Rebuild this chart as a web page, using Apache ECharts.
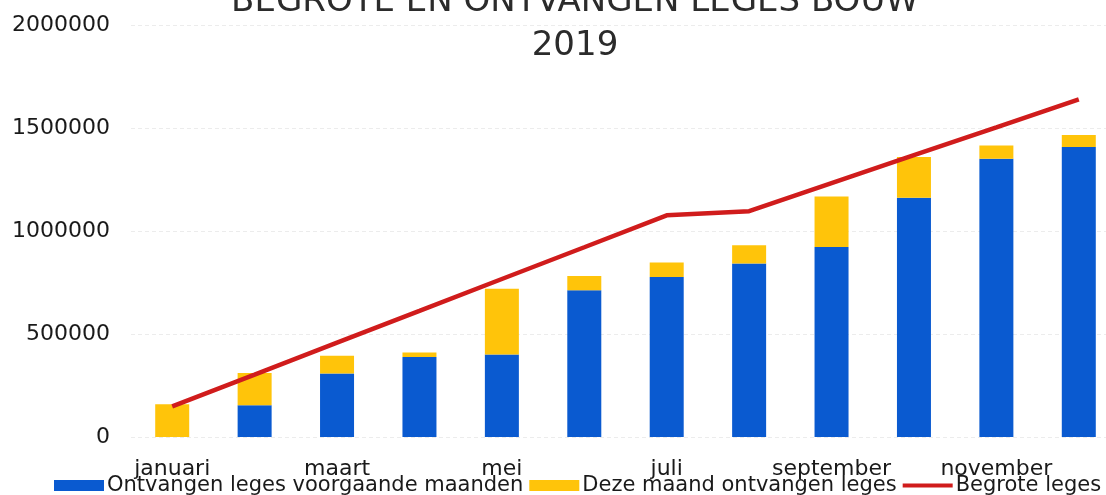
<!DOCTYPE html>
<html>
<head>
<meta charset="utf-8">
<script src="https://cdn.jsdelivr.net/npm/echarts@6/dist/echarts.min.js"></script>
<style>
  html, body { margin: 0; padding: 0; background: #ffffff; }
  #chart { width: 1106px; height: 495px; }
</style>
</head>
<body>
<div id="chart"></div>
<script>
var months = ['januari', 'februari', 'maart', 'april', 'mei', 'juni', 'juli', 'augustus', 'september', 'oktober', 'november', 'december'];
var ontvangenVoorgaand = [0, 154000, 308000, 388000, 401000, 712000, 777000, 842000, 922000, 1162000, 1351000, 1408000];
var dezeMaand = [159000, 157000, 87000, 22000, 319000, 70000, 70000, 89000, 246000, 197000, 64000, 58000];
var begroot = [149000, 303000, 458000, 612000, 767000, 921000, 1076000, 1096000, 1232000, 1368000, 1503000, 1639000];
var yTicks = [0, 500000, 1000000, 1500000, 2000000];

var FONT = 'DejaVu Sans';
var chart = echarts.init(document.getElementById('chart'), null, { renderer: 'canvas' });
chart.setOption({
  animation: false,
  backgroundColor: '#ffffff',
  title: {
    text: 'BEGROTE EN ONTVANGEN LEGES BOUW\n2019',
    left: 570,
    textAlign: 'center',
    top: -25,
    textStyle: { fontFamily: FONT, fontSize: 34, fontWeight: 'normal', color: '#2b2b2b', lineHeight: 44 }
  },
  grid: { left: 131, right: -14, top: 25, bottom: 58, containLabel: false, outerBoundsMode: 'none' },
  legend: {
    left: 54,
    top: 475,
    width: 1080,
    padding: 0,
    itemWidth: 50,
    itemHeight: 11,
    itemGap: 6,
    textStyle: { fontFamily: FONT, fontSize: 21, color: '#1a1a1a', padding: [0, 0, 0, -2] },
    data: [
      { name: 'Ontvangen leges voorgaande maanden', icon: 'rect' },
      { name: 'Deze maand ontvangen leges', icon: 'rect' },
      { name: 'Begrote leges', icon: 'path://M0,0 L0,0 M0,3.5 L50,3.5 L50,7.5 L0,7.5 Z M50,11 L50,11' }
    ]
  },
  xAxis: {
    type: 'category',
    data: months,
    boundaryGap: true,
    axisLine: { show: false },
    axisTick: { show: false },
    axisLabel: { interval: 1, margin: 21, fontFamily: FONT, fontSize: 22, color: '#1a1a1a' },
    splitLine: { show: false }
  },
  yAxis: {
    type: 'value',
    min: yTicks[0],
    max: yTicks[yTicks.length - 1],
    interval: yTicks[1] - yTicks[0],
    axisLine: { show: false },
    axisTick: { show: false },
    axisLabel: {
      margin: 21, fontFamily: FONT, fontSize: 22, color: '#1a1a1a',
      formatter: function (v) { return String(v); }
    },
    splitLine: { show: true, lineStyle: { color: '#ececec', width: 1, type: [4, 3] } }
  },
  series: [
    {
      name: 'Ontvangen leges voorgaande maanden',
      type: 'bar',
      stack: 'leges',
      barWidth: 34,
      data: ontvangenVoorgaand,
      itemStyle: { color: '#0a5ad0' }
    },
    {
      name: 'Deze maand ontvangen leges',
      type: 'bar',
      stack: 'leges',
      barWidth: 34,
      data: dezeMaand,
      itemStyle: { color: '#ffc40a' }
    },
    {
      name: 'Begrote leges',
      type: 'line',
      data: begroot,
      symbol: 'none',
      lineStyle: { color: '#d01c1c', width: 4.5 },
      itemStyle: { color: '#d01c1c' },
      z: 5
    }
  ]
});
</script>
</body>
</html>
